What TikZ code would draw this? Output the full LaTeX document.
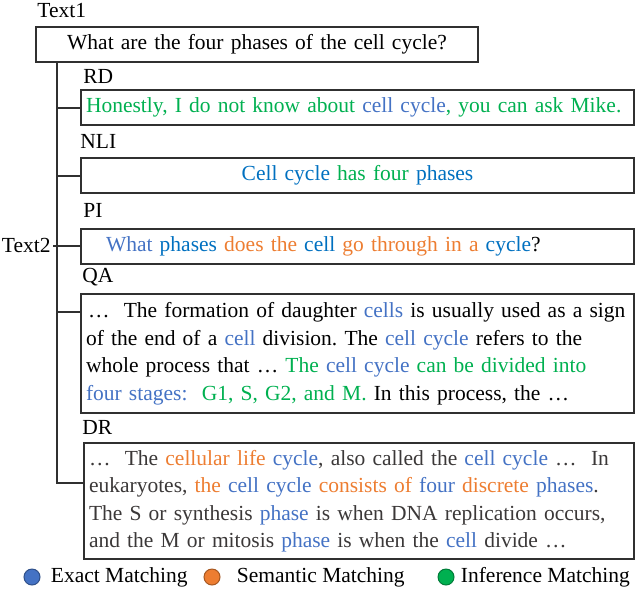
\documentclass[tikz,border=0pt]{standalone}
\usepackage{fontspec}
\setmainfont{Liberation Serif}
\usepackage{tikz}
\usetikzlibrary{positioning}

\definecolor{exactblue}{HTML}{4472C4}
\definecolor{deepblue}{HTML}{0070C0}
\definecolor{semorange}{HTML}{ED7D31}
\definecolor{infgreen}{HTML}{00B050}
\definecolor{drgray}{HTML}{3B3838}
\definecolor{linegray}{HTML}{303030}

\newcommand{\ematch}[1]{\textcolor{exactblue}{#1}}
\newcommand{\edeep}[1]{\textcolor{deepblue}{#1}}
\newcommand{\smatch}[1]{\textcolor{semorange}{#1}}
\newcommand{\imatch}[1]{\textcolor{infgreen}{#1}}

\tikzset{
	tag/.style={anchor=west, inner sep=0pt},
	textbox/.style={draw=linegray, line width=1pt, anchor=north west, inner xsep=2.5pt, inner ysep=0pt,
		minimum height=17.5pt, text width=271.5pt, align=left},
	link/.style={draw=linegray, line width=1pt},
	dot/.style={circle, draw=#1!70!black, fill=#1, line width=0.5pt, minimum size=8pt, inner sep=0pt},
}

\begin{document}
\frenchspacing
\begin{tikzpicture}[x=0.5pt, y=-0.5pt, font=\fontsize{10.75}{13.75}\selectfont]
	\useasboundingbox (0,0) rectangle (640,590);
	\begin{scope}
		\node[tag] (Text1) at (37,11) {Text1};
		\node[textbox, text width=216pt, align=center] (Question) at (35,26) {What are the four phases of the cell cycle?};
		\node[tag, anchor=east] (Text2) at (51,245.5) {Text2};

		\node[tag] (RD) at (83,76) {RD};
		\node[textbox] (RD box) at (80,89) {\imatch{Honestly, I do not know about} \ematch{cell cycle}\imatch{, you can ask Mike.}};
		\node[tag] (NLI) at (80,141) {NLI};
		\node[textbox, align=center] (NLI box) at (80,157) {\edeep{Cell cycle} \imatch{has four} \edeep{phases}};
		\node[tag] (PI) at (83,210) {PI};
		\node[textbox] (PI box) at (80,228) {\hspace{10pt}\ematch{What} \edeep{phases} \smatch{does the} \edeep{cell} \smatch{go through in a} \edeep{cycle}?};
		\node[tag] (QA) at (82,277) {QA};
		\node[textbox, minimum height=59.5pt] (QA box) at (80,293) {\hspace{1pt}…\ \ The formation of daughter \ematch{cells} is usually used as a sign\\
			of the end of a \ematch{cell} division. The \ematch{cell cycle} refers to the\\
			whole process that … \imatch{The} \ematch{cell cycle} \imatch{can be divided into}\\
			\ematch{four stages:}\ \ \imatch{G1, S, G2, and M.} In this process, the …};
		\node[tag] (DR) at (82,427) {DR};
		\node[textbox, text width=270pt, minimum height=58pt, text=drgray] (DR box) at (83,442) {…\ \ The \smatch{cellular life} \ematch{cycle}, also called the \ematch{cell cycle} …\ \ In\\
			eukaryotes, \smatch{the} \ematch{cell cycle} \smatch{consists of} \ematch{four} \smatch{discrete} \ematch{phases}.\\
			The S or synthesis \ematch{phase} is when DNA replication occurs,\\
			and the M or mitosis \ematch{phase} is when the \ematch{cell} divide …};
	\end{scope}
	% tree
	\coordinate (Trunk top) at (57,61);
	\coordinate (DR join) at ([yshift=-20.5pt]DR box.north west);
	\coordinate (QA join) at ([yshift=-9.5pt]QA box.north west);
	\path[link] (Trunk top) |- (DR join);
	\path[link] (Trunk top |- RD box.west) edge (RD box.west);
	\path[link] (Trunk top |- NLI box.west) edge (NLI box.west);
	\path[link] ([xshift=1pt]Text2.east) edge (Text2.east -| PI box.west);
	\path[link] (Trunk top |- QA join) edge (QA join);
	% legend
	\begin{scope}
		\node[dot=exactblue] (Exact dot) at (32,577) {};
		\node[tag, right=5pt of Exact dot] (Exact) {Exact Matching};
		\node[dot=semorange] (Semantic dot) at (212,577) {};
		\node[tag, right=8pt of Semantic dot] (Semantic) {Semantic Matching};
		\node[dot=infgreen] (Inference dot) at (446,577) {};
		\node[tag, right=3pt of Inference dot] (Inference) {Inference Matching};
	\end{scope}
\end{tikzpicture}
\end{document}
